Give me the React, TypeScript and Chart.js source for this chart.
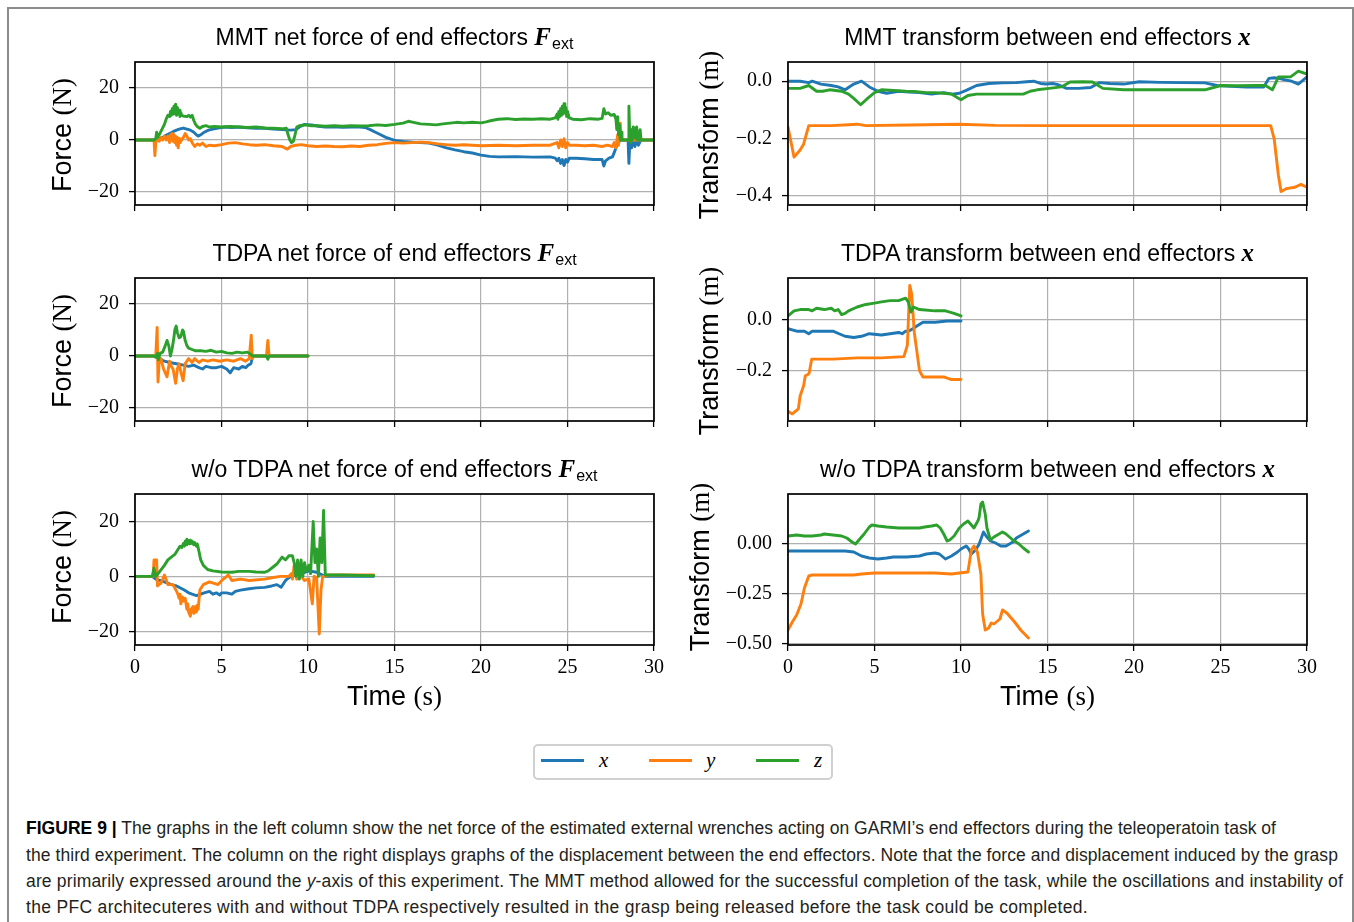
import React, { useEffect, useLayoutEffect, useRef } from "react";
import { Chart, registerables } from "chart.js";

Chart.register(...registerables);

type Pts = [number, number][];

// ---------- tick values ----------
const timeTicks = [0, 5, 10, 15, 20, 25, 30];
const forceTicks = [-20, 0, 20];
const transTicksA = [-0.4, -0.2, 0.0];
const transTicksMid = [-0.2, 0.0];
const transTicksB = [-0.5, -0.25, 0.0];

// ---------- MMT net force (N) ----------
const mmtForceX: Pts = [[0,0],[1.2,0],[1.4,0.5],[1.6,1],[1.8,1.8],[2.0,2.5],[2.2,3.2],[2.4,3.8],[2.6,4.3],[2.8,4.6],[3.0,4.2],[3.2,3.8],[3.4,3],[3.55,2],[3.65,1.5],[3.8,2],[4.0,3],[4.25,3.8],[4.5,4.2],[4.8,4.6],[5.2,5],[5.6,4.8],[6.0,5],[6.5,4.7],[7.0,4.5],[7.5,4.5],[8.0,4.2],[8.5,4],[9.0,3.8],[9.3,4],[9.5,5],[9.8,6],[10.2,5.8],[10.6,5.3],[11,5],[11.5,5.1],[12,4.9],[12.5,5],[13,5],[13.3,4.8],[13.6,4],[13.9,3],[14.2,2],[14.5,1],[14.8,0.3],[15.1,-0.3],[15.5,-0.6],[16,-0.8],[16.5,-1],[17,-1.2],[17.5,-2],[18,-3],[18.5,-3.8],[19,-4.5],[19.5,-5],[20,-5.8],[20.5,-6.3],[21,-6.5],[22,-6.4],[23,-6.6],[24,-6.5],[24.3,-7],[24.4,-8],[24.5,-7],[24.6,-9],[24.7,-7.5],[24.8,-9.8],[24.9,-7.5],[25.0,-8.5],[25.1,-7],[25.5,-7],[26,-7.2],[26.5,-7.5],[27.0,-7.5],[27.1,-10],[27.2,-8],[27.4,-7],[27.6,-6.5],[27.75,-4],[27.85,-2],[28.0,-0.5],[28.1,0],[28.5,0],[28.55,-9],[28.6,-1],[28.7,-3],[28.8,-0.5],[28.9,-2.5],[29.0,0],[29.1,-2],[29.2,-0.5],[29.3,0],[30,0]];
const mmtForceY: Pts = [[0,0],[1.1,0],[1.15,-6],[1.2,-1],[1.3,0.5],[1.4,-0.5],[1.5,1],[1.6,0],[1.7,1.5],[1.8,0],[1.9,1.5],[2.0,-1],[2.05,2],[2.1,0],[2.15,2.5],[2.2,-0.5],[2.25,2],[2.3,-1],[2.35,1.5],[2.4,-2],[2.45,1],[2.5,-3],[2.55,0.5],[2.6,-1],[2.7,0],[2.8,1],[2.9,2.5],[3.0,1.5],[3.1,0],[3.2,0.5],[3.3,-1],[3.45,-2.5],[3.6,-1.5],[3.75,-2],[3.9,-1.2],[4.1,-2.5],[4.3,-2],[4.6,-2.2],[5.0,-1.8],[5.4,-1.2],[5.8,-1],[6.2,-1.5],[6.6,-1.8],[7.0,-2],[7.5,-1.8],[8.0,-2.2],[8.5,-2.5],[8.8,-3.5],[9.0,-2.5],[9.3,-2],[9.6,-1.8],[10,-2.2],[10.5,-2.5],[11,-2.3],[11.5,-2.5],[12,-2.6],[12.5,-2.3],[13,-2.5],[13.5,-2],[14,-1.8],[14.5,-1.3],[15,-1],[15.5,-1.2],[16,-1],[16.5,-0.8],[17,-1],[17.5,-1.5],[18,-1.8],[18.5,-2],[19,-1.8],[19.5,-2],[20,-2.2],[21,-2],[22,-2.2],[23,-2],[24,-2],[24.4,-1],[24.5,-3],[24.6,0],[24.7,-2.5],[24.8,0.5],[24.9,-3],[25.0,-1],[25.1,-2],[25.5,-2],[26,-2.2],[26.5,-2],[27.0,-2.5],[27.3,-2],[27.6,-2.5],[27.7,-1],[27.8,-3],[27.9,2],[27.95,-2],[28.0,4],[28.05,6.5],[28.1,0],[28.2,0],[30,0]];
const mmtForceZ: Pts = [[0,0],[1.1,0],[1.2,0.5],[1.25,3],[1.3,1],[1.4,2],[1.55,4],[1.7,6],[1.8,8],[1.9,9.5],[2.0,9],[2.05,11],[2.1,9.5],[2.15,12],[2.2,10],[2.25,13],[2.3,11],[2.35,13.8],[2.4,9.5],[2.45,12.5],[2.5,10],[2.55,11.5],[2.6,9],[2.65,10.5],[2.7,9.5],[2.8,9.2],[3.0,9],[3.1,9.5],[3.2,8.8],[3.3,9.5],[3.4,7.5],[3.5,6],[3.6,5.2],[3.75,4.5],[3.9,5.2],[4.1,5.5],[4.3,5],[4.6,5.2],[5.0,5],[5.5,5.2],[6.0,5],[6.5,4.8],[7.0,5],[7.5,4.6],[8.0,4.5],[8.5,4.3],[8.75,4.5],[8.85,2],[8.95,0],[9.05,-1],[9.15,-0.5],[9.25,2],[9.35,5],[9.5,5.5],[9.8,5.8],[10.2,5.5],[10.6,5.5],[11,5.3],[11.5,5.5],[12,5.3],[12.5,5.5],[13,5.4],[13.5,5.5],[14,5.8],[14.5,5.6],[15,6],[15.5,6.5],[15.8,7.2],[16.1,6.8],[16.5,6.2],[17,6],[17.4,5.8],[17.8,6.2],[18.2,6.5],[18.6,6.8],[19,6.6],[19.5,6.8],[20,6.6],[20.3,7],[20.6,7.5],[21,8],[21.5,8.2],[22,7.9],[22.5,8.1],[23,8],[23.5,8.2],[24,8],[24.3,8.5],[24.4,10],[24.45,8],[24.5,11],[24.55,9],[24.6,12],[24.65,9.5],[24.7,13],[24.75,10],[24.8,14],[24.85,10.5],[24.9,12.5],[24.95,9],[25.0,11],[25.1,8.5],[25.3,8],[25.8,7.8],[26.3,8.2],[26.8,8],[27.0,8.3],[27.1,12],[27.2,10],[27.35,10.5],[27.5,9.5],[27.7,9.8],[27.8,8],[27.85,4],[27.9,9],[27.95,2],[28.0,6],[28.05,0],[28.1,3],[28.15,0],[28.5,0],[28.55,13],[28.6,1],[28.65,-1],[28.7,4],[28.75,0],[28.8,5],[28.85,1],[28.9,4.5],[28.95,0.5],[29.0,5],[29.05,0],[29.1,3],[29.15,0],[29.2,4],[29.25,0],[30,0]];

// ---------- MMT transform (m) ----------
const mmtTransX: Pts = [[0,0],[0.7,0],[1.2,-0.005],[1.4,0],[1.9,-0.01],[2.5,-0.015],[2.9,-0.02],[3.3,-0.03],[3.8,-0.01],[4.25,0],[4.7,-0.02],[5.2,-0.035],[5.7,-0.042],[6.4,-0.035],[7.0,-0.038],[7.6,-0.04],[8.3,-0.045],[9.0,-0.04],[9.5,-0.045],[9.9,-0.042],[10.3,-0.032],[10.9,-0.015],[11.6,-0.008],[12.4,-0.006],[13.2,-0.005],[13.8,-0.002],[14.2,0],[14.6,-0.008],[14.9,-0.01],[15.3,-0.008],[15.6,-0.012],[16.1,-0.025],[16.8,-0.025],[17.5,-0.022],[18.0,-0.005],[18.6,-0.008],[19.4,-0.01],[20.3,-0.002],[21.5,-0.004],[22.7,-0.005],[24.1,-0.006],[24.8,-0.015],[25.6,-0.018],[26.5,-0.02],[27.5,-0.02],[27.8,0.01],[28.1,0.012],[28.4,0.01],[28.7,0.005],[29.1,0],[29.5,-0.01],[30,0.015]];
const mmtTransY: Pts = [[0,-0.16],[0.35,-0.265],[0.7,-0.24],[0.9,-0.22],[1.2,-0.155],[2.5,-0.155],[3.5,-0.152],[4.0,-0.15],[4.5,-0.155],[7.0,-0.153],[9.9,-0.15],[12,-0.154],[15,-0.155],[20,-0.155],[25,-0.155],[27.9,-0.155],[28.1,-0.2],[28.35,-0.33],[28.5,-0.385],[28.8,-0.375],[29.3,-0.37],[29.65,-0.36],[30,-0.37]];
const mmtTransZ: Pts = [[0,-0.025],[0.7,-0.025],[1.2,-0.015],[1.65,-0.035],[2.0,-0.035],[2.4,-0.03],[3.1,-0.035],[3.5,-0.045],[3.8,-0.06],[4.2,-0.082],[4.6,-0.06],[5.0,-0.04],[5.4,-0.03],[6.1,-0.032],[6.8,-0.035],[7.3,-0.036],[8.0,-0.04],[8.5,-0.04],[9.0,-0.042],[9.45,-0.045],[9.8,-0.058],[10.0,-0.065],[10.4,-0.05],[10.9,-0.045],[12.3,-0.045],[13.6,-0.045],[14.0,-0.035],[14.4,-0.03],[15.1,-0.025],[15.8,-0.02],[16.3,-0.003],[17.0,-0.002],[17.6,-0.003],[18.2,-0.025],[19.4,-0.03],[21.0,-0.03],[22.5,-0.03],[24.1,-0.03],[24.6,-0.022],[25.0,-0.015],[26.0,-0.016],[27.0,-0.015],[27.6,-0.015],[28.0,-0.03],[28.35,0.015],[29.05,0.015],[29.5,0.035],[30,0.025]];

// ---------- TDPA net force (N) ----------
const tdpaForceX: Pts = [[0,0],[1.2,0],[1.4,-1],[1.7,-2],[2.0,-2.5],[2.4,-3],[2.8,-3.5],[3.1,-4],[3.4,-3.5],[3.7,-4.5],[3.9,-5],[4.1,-4],[4.4,-4.5],[4.7,-4.5],[5.0,-4],[5.3,-5],[5.5,-6.5],[5.7,-4.5],[6.0,-5],[6.2,-4],[6.4,-4.5],[6.55,-3.5],[6.7,-3],[6.8,0],[10,0]];
const tdpaForceY: Pts = [[0,0],[1.2,0],[1.28,11],[1.33,-10],[1.4,-2],[1.5,-1],[1.65,-5],[1.85,-8],[2.0,-2],[2.1,-4],[2.2,-5],[2.35,-10.5],[2.45,-5],[2.55,-3],[2.65,-6],[2.78,-9.5],[2.9,-3],[3.1,-1],[3.3,-2.5],[3.45,-1],[3.7,-2.5],[3.9,-1.5],[4.2,-2],[4.5,-1.5],[4.9,-2],[5.3,-1.5],[5.7,-2],[6.1,-1],[6.4,-2],[6.6,-1],[6.72,8],[6.78,-1],[6.85,0],[7.6,0],[7.68,6],[7.75,0],[10,0]];
const tdpaForceZ: Pts = [[0,0],[1.1,0],[1.2,-0.5],[1.3,1],[1.35,-1.5],[1.45,1],[1.6,1.5],[1.75,4],[1.85,6],[1.95,4],[2.05,0],[2.15,3],[2.25,7],[2.3,10],[2.38,11.5],[2.45,9],[2.55,7],[2.65,7.5],[2.75,10],[2.8,9.5],[2.9,6],[3.0,4],[3.1,3],[3.3,2.5],[3.5,2],[3.8,2],[4.1,1.8],[4.4,2.2],[4.7,1.5],[5.0,1.8],[5.3,1.2],[5.6,1],[5.9,1.5],[6.2,1.2],[6.5,1.5],[6.7,0.5],[6.8,0],[7.6,0],[7.68,-1.2],[7.75,0],[10,0]];

// ---------- TDPA transform (m) ----------
const tdpaTransX: Pts = [[0,-0.035],[0.5,-0.045],[0.95,-0.045],[1.2,-0.055],[1.4,-0.045],[2.6,-0.045],[2.95,-0.055],[3.3,-0.065],[3.8,-0.07],[4.25,-0.065],[4.7,-0.055],[5.4,-0.06],[5.9,-0.055],[6.4,-0.05],[6.6,-0.055],[6.8,-0.045],[6.95,-0.045],[7.1,-0.04],[7.45,-0.025],[7.8,-0.01],[8.5,-0.01],[9.2,-0.005],[10.0,-0.005]];
const tdpaTransY: Pts = [[0,-0.36],[0.25,-0.37],[0.6,-0.35],[0.7,-0.3],[0.9,-0.26],[1.0,-0.22],[1.15,-0.215],[1.22,-0.21],[1.37,-0.155],[2.6,-0.155],[4.0,-0.15],[5.4,-0.15],[6.7,-0.145],[6.9,-0.1],[7.04,0.135],[7.15,0.1],[7.3,-0.05],[7.6,-0.2],[7.8,-0.225],[9.0,-0.225],[9.45,-0.235],[10,-0.235]];
const tdpaTransZ: Pts = [[0,0.015],[0.35,0.035],[0.7,0.04],[1.2,0.04],[1.4,0.035],[1.65,0.045],[2.1,0.04],[2.5,0.045],[2.7,0.035],[2.9,0.04],[3.1,0.02],[3.3,0.025],[3.5,0.035],[4.0,0.05],[4.5,0.06],[5.0,0.065],[5.4,0.07],[5.9,0.075],[6.4,0.075],[6.8,0.085],[6.95,0.07],[7.1,0.03],[7.25,0.05],[7.6,0.04],[8.5,0.035],[9.1,0.035],[9.6,0.025],[10.0,0.015]];

// ---------- w/o TDPA net force (N) ----------
const freeForceX: Pts = [[0,0],[1.0,0],[1.2,-1],[1.7,-2],[2.1,-3],[2.4,-3.5],[2.85,-5],[3.1,-6],[3.3,-6.5],[3.55,-7],[3.8,-6.5],[4.0,-6],[4.3,-5.5],[4.5,-6.5],[4.7,-6],[4.9,-6.8],[5.0,-6],[5.3,-6],[5.6,-6.5],[5.8,-5.5],[6.1,-5],[6.6,-4.5],[7.0,-4.2],[7.5,-4],[7.9,-3.5],[8.2,-3],[8.45,-4],[8.7,-1.5],[9.0,0],[9.3,0.5],[9.6,1],[10.05,2],[10.5,1.5],[11.0,0],[13.8,0]];
const freeForceY: Pts = [[0,0],[1.05,0],[1.1,6],[1.25,6],[1.3,-3.5],[1.5,-2.5],[1.7,0.5],[1.9,-3],[2.2,-3],[2.45,-6],[2.55,-8],[2.6,-6.5],[2.65,-10],[2.75,-7.5],[2.8,-9],[2.9,-8],[3.0,-12],[3.05,-10],[3.1,-13],[3.2,-14.5],[3.25,-12],[3.35,-11],[3.4,-13.5],[3.5,-11],[3.55,-13],[3.6,-10.5],[3.65,-12],[3.75,-5],[3.95,-3],[4.3,-2],[4.8,-3],[5.1,-1],[5.4,0.5],[5.6,-1.5],[6.1,-1],[6.6,-1.5],[7.5,-1],[7.9,-0.5],[8.4,0],[8.9,0],[9.05,1],[9.1,-1],[9.2,4],[9.35,-1],[9.6,0],[9.8,-1.5],[10.05,-1],[10.25,-10],[10.35,0],[10.5,-0.5],[10.65,-21],[10.75,-5],[10.85,0],[11.2,0.5],[13.8,0.5]];
const freeForceZ: Pts = [[0,0],[1.0,0],[1.1,3],[1.2,0],[1.4,1.5],[1.7,4],[1.9,6],[2.1,7],[2.3,8],[2.5,10],[2.6,11],[2.7,10.5],[2.8,12],[2.85,11],[2.9,12.8],[2.95,11.5],[3.0,13.5],[3.05,12],[3.1,13],[3.15,11.8],[3.2,13.2],[3.25,12],[3.3,12.8],[3.4,11.5],[3.45,12.3],[3.55,11],[3.6,11.8],[3.65,10.5],[3.7,9],[3.8,6],[3.95,4],[4.2,2.5],[4.5,2],[5.0,1.6],[5.6,1.5],[6.0,1.8],[6.6,1.8],[7.0,1.6],[7.5,1.5],[7.7,2],[8.0,3.5],[8.2,4.5],[8.5,7],[8.7,6],[8.9,7.5],[9.1,7.5],[9.2,5],[9.3,0],[9.4,6],[9.5,-1],[9.6,6],[9.7,0],[9.8,5],[9.9,2],[10.05,4],[10.15,1],[10.3,20],[10.4,5],[10.5,10],[10.6,0],[10.7,14],[10.8,5],[10.9,24],[11.0,0.5],[12,0.5],[13,0.3],[13.8,0.2]];

// ---------- w/o TDPA transform (m) ----------
const freeTransX: Pts = [[0,-0.035],[1.4,-0.035],[2.6,-0.035],[3.3,-0.035],[3.8,-0.04],[4.25,-0.06],[4.7,-0.07],[5.2,-0.075],[5.7,-0.07],[6.1,-0.065],[6.85,-0.065],[7.6,-0.06],[8.0,-0.05],[8.5,-0.045],[8.75,-0.05],[9.1,-0.075],[9.45,-0.06],[9.8,-0.04],[10.0,-0.025],[10.3,-0.01],[10.45,-0.025],[10.6,-0.05],[10.85,-0.03],[11.05,0],[11.3,0.06],[11.45,0.04],[11.7,0.015],[12.0,0.005],[12.3,-0.01],[12.6,-0.01],[13.0,0.01],[13.2,0.03],[13.6,0.05],[13.9,0.065]];
const freeTransY: Pts = [[0,-0.43],[0.25,-0.39],[0.5,-0.355],[0.75,-0.3],[0.95,-0.22],[1.2,-0.16],[1.4,-0.155],[2.8,-0.155],[3.8,-0.155],[4.25,-0.15],[5.0,-0.145],[6.6,-0.145],[8.5,-0.145],[9.45,-0.15],[9.9,-0.145],[10.4,-0.14],[10.6,-0.03],[10.75,-0.01],[10.95,-0.04],[11.15,-0.15],[11.25,-0.35],[11.4,-0.43],[11.6,-0.42],[11.75,-0.395],[11.9,-0.4],[12.25,-0.375],[12.4,-0.33],[12.65,-0.345],[13.1,-0.39],[13.45,-0.43],[13.9,-0.47]];
const freeTransZ: Pts = [[0,0.04],[0.5,0.045],[0.95,0.04],[1.4,0.04],[1.9,0.045],[2.1,0.05],[2.6,0.045],[3.1,0.04],[3.4,0.03],[3.7,0.01],[3.9,0],[4.1,0.02],[4.4,0.05],[4.7,0.085],[4.85,0.095],[5.2,0.09],[5.7,0.085],[6.4,0.08],[7.6,0.08],[7.9,0.085],[8.3,0.09],[8.6,0.095],[8.8,0.08],[9.0,0.05],[9.2,0.015],[9.35,0.02],[9.6,0.04],[9.9,0.08],[10.15,0.1],[10.4,0.115],[10.6,0.095],[10.75,0.08],[11.0,0.12],[11.05,0.135],[11.15,0.2],[11.25,0.21],[11.4,0.15],[11.5,0.08],[11.7,0.02],[11.9,0.035],[12.2,0.05],[12.4,0.06],[12.6,0.05],[13.0,0.02],[13.35,0],[13.6,-0.02],[13.9,-0.04]];

// ---------- style ----------
const BLUE = "#1f77b4";
const ORANGE = "#ff7f0e";
const GREEN = "#2ca02c";
const SERIF = '"Liberation Serif", "Times New Roman", serif';
const SANS = '"Liberation Sans", Arial, sans-serif';

const LEFT_X = 135;
const RIGHT_X = 788;
const BOX_W = 519;
const BOX_H = 157;
const ROW_Y = [56, 272, 488];
const PAD_L = 90;
const PAD_T = 16;
const PAD_R = 24;

interface PanelCfg {
  left: number;
  top: number;
  yMin: number;
  yMax: number;
  yTicks: number[];
  dec: number;
  showX: boolean;
  x: Pts;
  y: Pts;
  z: Pts;
}

const fmtTick = (v: number, dec: number) => {
  const s = Math.abs(v).toFixed(dec);
  return v < -1e-9 ? "\u2212" + s : s;
};

const toXY = (pts: Pts) => pts.map(([x, y]) => ({ x, y }));

const framePlugin = {
  id: "frame",
  afterDraw(chart: any) {
    const { ctx, chartArea } = chart;
    const { left, top, right, bottom } = chartArea;
    ctx.save();
    ctx.strokeStyle = "#000";
    ctx.lineWidth = 1.7;
    ctx.strokeRect(left, top, right - left, bottom - top);
    ctx.restore();
  },
};

const panels: PanelCfg[] = [
  { left: LEFT_X, top: ROW_Y[0], yMin: -25, yMax: 30, yTicks: forceTicks, dec: 0, showX: false, x: mmtForceX, y: mmtForceY, z: mmtForceZ },
  { left: RIGHT_X, top: ROW_Y[0], yMin: -0.432, yMax: 0.067, yTicks: transTicksA, dec: 1, showX: false, x: mmtTransX, y: mmtTransY, z: mmtTransZ },
  { left: LEFT_X, top: ROW_Y[1], yMin: -25, yMax: 30, yTicks: forceTicks, dec: 0, showX: false, x: tdpaForceX, y: tdpaForceY, z: tdpaForceZ },
  { left: RIGHT_X, top: ROW_Y[1], yMin: -0.398, yMax: 0.164, yTicks: transTicksMid, dec: 1, showX: false, x: tdpaTransX, y: tdpaTransY, z: tdpaTransZ },
  { left: LEFT_X, top: ROW_Y[2], yMin: -25, yMax: 30, yTicks: forceTicks, dec: 0, showX: true, x: freeForceX, y: freeForceY, z: freeForceZ },
  { left: RIGHT_X, top: ROW_Y[2], yMin: -0.505, yMax: 0.25, yTicks: transTicksB, dec: 2, showX: true, x: freeTransX, y: freeTransY, z: freeTransZ },
];

function PanelChart({ p }: { p: PanelCfg }) {
  const ref = useRef<HTMLCanvasElement | null>(null);
  const xH = p.showX ? 44 : 14;
  const W = PAD_L + BOX_W + PAD_R;
  const H = PAD_T + BOX_H + xH;

  useEffect(() => {
    const canvas = ref.current;
    if (!canvas) return;
    const mk = (pts: Pts, color: string) => ({
      data: toXY(pts),
      borderColor: color,
      backgroundColor: color,
      borderWidth: 2.9,
      pointRadius: 0,
      pointHoverRadius: 0,
      tension: 0,
      fill: false,
      borderJoinStyle: "round" as const,
      borderCapStyle: "round" as const,
    });
    const gridOpts = {
      color: "#b0b0b0",
      lineWidth: 1.2,
      tickColor: "#000",
      tickLength: 6,
      tickWidth: 1.3,
      drawTicks: true,
    };
    const chart = new Chart(canvas, {
      type: "line",
      data: { datasets: [mk(p.z, GREEN), mk(p.y, ORANGE), mk(p.x, BLUE)] },
      options: {
        animation: false,
        responsive: false,
        maintainAspectRatio: false,
        events: [],
        layout: { padding: { left: 0, top: PAD_T, right: PAD_R, bottom: 0 } },
        plugins: { legend: { display: false }, tooltip: { enabled: false }, title: { display: false } },
        scales: {
          x: {
            type: "linear",
            min: 0,
            max: 30,
            afterBuildTicks: (axis: any) => {
              axis.ticks = timeTicks.map((v) => ({ value: v }));
            },
            afterFit: (s: any) => {
              s.height = xH;
            },
            grid: gridOpts,
            border: { display: false },
            ticks: {
              display: p.showX,
              autoSkip: false,
              maxRotation: 0,
              padding: 5,
              color: "#000",
              font: { family: SERIF, size: 20 },
              callback: (v: any) => String(v),
            },
          },
          y: {
            type: "linear",
            min: p.yMin,
            max: p.yMax,
            afterBuildTicks: (axis: any) => {
              axis.ticks = p.yTicks.map((v) => ({ value: v }));
            },
            afterFit: (s: any) => {
              s.width = PAD_L;
            },
            grid: gridOpts,
            border: { display: false },
            ticks: {
              autoSkip: false,
              padding: 10,
              color: "#000",
              font: { family: SERIF, size: 20 },
              callback: (v: any) => fmtTick(Number(v), p.dec),
            },
          },
        },
      } as any,
      plugins: [framePlugin],
    });
    return () => chart.destroy();
  }, [p]);

  return (
    <canvas
      ref={ref}
      width={W}
      height={H}
      style={{ position: "absolute", left: p.left - PAD_L, top: p.top - PAD_T, width: W, height: H }}
    />
  );
}

const mathBold: React.CSSProperties = { fontFamily: SERIF, fontWeight: "bold", fontStyle: "italic", fontSize: 25 };
const Fext = (
  <>
    <span style={mathBold}>F</span>
    <span style={{ fontSize: 16, position: "relative", top: 4, marginLeft: 1 }}>ext</span>
  </>
);
const Xb = <span style={mathBold}>x</span>;

const titles: { left: number; row: number; content: React.ReactNode }[] = [
  { left: LEFT_X, row: 0, content: <>MMT net force of end effectors {Fext}</> },
  { left: RIGHT_X, row: 0, content: <>MMT transform between end effectors {Xb}</> },
  { left: LEFT_X, row: 1, content: <>TDPA net force of end effectors {Fext}</> },
  { left: RIGHT_X, row: 1, content: <>TDPA transform between end effectors {Xb}</> },
  { left: LEFT_X, row: 2, content: <>w/o TDPA net force of end effectors {Fext}</> },
  { left: RIGHT_X, row: 2, content: <>w/o TDPA transform between end effectors {Xb}</> },
];

const yLabels: { cx: number; row: number; word: string; unit: string }[] = [
  { cx: 62, row: 0, word: "Force", unit: "(N)" },
  { cx: 62, row: 1, word: "Force", unit: "(N)" },
  { cx: 62, row: 2, word: "Force", unit: "(N)" },
  { cx: 709, row: 0, word: "Transform", unit: "(m)" },
  { cx: 709, row: 1, word: "Transform", unit: "(m)" },
  { cx: 700, row: 2, word: "Transform", unit: "(m)" },
];

const captionLines: React.ReactNode[] = [
  <>
    <b style={{ color: "#000" }}>FIGURE 9 |</b> The graphs in the left column show the net force of the estimated external wrenches acting on GARMI’s end effectors during the teleoperatoin task of
  </>,
  <>the third experiment. The column on the right displays graphs of the displacement between the end effectors. Note that the force and displacement induced by the grasp</>,
  <>
    are primarily expressed around the <i>y</i>-axis of this experiment. The MMT method allowed for the successful completion of the task, while the oscillations and instability of
  </>,
  <>the PFC architecuteres with and without TDPA respectively resulted in the grasp being released before the task could be completed.</>,
];
const captionWidths = [1250, 1312, 1317, 1062];
const captionTops = [815, 841.7, 868.3, 893.5];

export default function App() {
  const capRefs = useRef<(HTMLSpanElement | null)[]>([]);

  useLayoutEffect(() => {
    const fit = () => {
      capRefs.current.forEach((el, i) => {
        if (!el) return;
        el.style.letterSpacing = "0px";
        const w = el.getBoundingClientRect().width;
        const n = (el.textContent || "").length;
        if (n > 0) el.style.letterSpacing = (captionWidths[i] - w) / n + "px";
      });
    };
    fit();
    if ((document as any).fonts && (document as any).fonts.ready) {
      (document as any).fonts.ready.then(fit);
    }
  }, []);

  return (
    <div
      style={{
        position: "absolute",
        left: 0,
        top: 0,
        width: 1354,
        height: 922,
        overflow: "hidden",
        background: "#fff",
        fontFamily: SANS,
        color: "#000",
      }}
    >
      {/* figure frame */}
      <div
        style={{
          position: "absolute",
          left: 7,
          top: 7,
          width: 1347,
          height: 930,
          boxSizing: "border-box",
          border: "2px solid #8c8c8c",
        }}
      />

      {panels.map((p, i) => (
        <PanelChart key={i} p={p} />
      ))}

      {titles.map((t, i) => (
        <div
          key={"t" + i}
          style={{
            position: "absolute",
            left: t.left - 40,
            width: BOX_W + 80,
            top: ROW_Y[t.row] - 33,
            textAlign: "center",
            fontFamily: SANS,
            fontSize: 23,
            lineHeight: "28px",
            whiteSpace: "nowrap",
          }}
        >
          {t.content}
        </div>
      ))}

      {yLabels.map((l, i) => (
        <div
          key={"y" + i}
          style={{
            position: "absolute",
            left: l.cx,
            top: ROW_Y[l.row] + BOX_H / 2,
            transform: "translate(-50%, -50%) rotate(-90deg)",
            fontSize: 27,
            lineHeight: "30px",
            whiteSpace: "nowrap",
          }}
        >
          <span style={{ fontFamily: SANS }}>{l.word}</span> <span style={{ fontFamily: SERIF }}>{l.unit}</span>
        </div>
      ))}

      {[LEFT_X, RIGHT_X].map((x, i) => (
        <div
          key={"xl" + i}
          style={{
            position: "absolute",
            left: x,
            width: BOX_W,
            top: 681,
            textAlign: "center",
            fontSize: 27,
            lineHeight: "30px",
            whiteSpace: "nowrap",
          }}
        >
          <span style={{ fontFamily: SANS }}>Time</span> <span style={{ fontFamily: SERIF }}>(s)</span>
        </div>
      ))}

      {/* legend */}
      <div
        style={{
          position: "absolute",
          left: 533,
          top: 744,
          width: 300,
          height: 36,
          boxSizing: "border-box",
          border: "2px solid #d0d0d0",
          borderRadius: 5,
        }}
      />
      {[
        { lx: 541, tx: 599, c: BLUE, s: "x" },
        { lx: 649, tx: 706, c: ORANGE, s: "y" },
        { lx: 756, tx: 814, c: GREEN, s: "z" },
      ].map((e, i) => (
        <React.Fragment key={"lg" + i}>
          <div style={{ position: "absolute", left: e.lx, top: 759, width: 43, height: 3, background: e.c }} />
          <div
            style={{
              position: "absolute",
              left: e.tx,
              top: 748,
              fontFamily: SERIF,
              fontStyle: "italic",
              fontSize: 21,
              lineHeight: "24px",
            }}
          >
            {e.s}
          </div>
        </React.Fragment>
      ))}

      {/* caption */}
      {captionLines.map((c, i) => (
        <span
          key={"c" + i}
          ref={(el) => {
            capRefs.current[i] = el;
          }}
          style={{
            position: "absolute",
            left: 26,
            top: captionTops[i],
            fontFamily: SANS,
            fontSize: 17.5,
            lineHeight: "26px",
            whiteSpace: "nowrap",
            color: "#231f20",
            display: "inline-block",
          }}
        >
          {c}
        </span>
      ))}
    </div>
  );
}
